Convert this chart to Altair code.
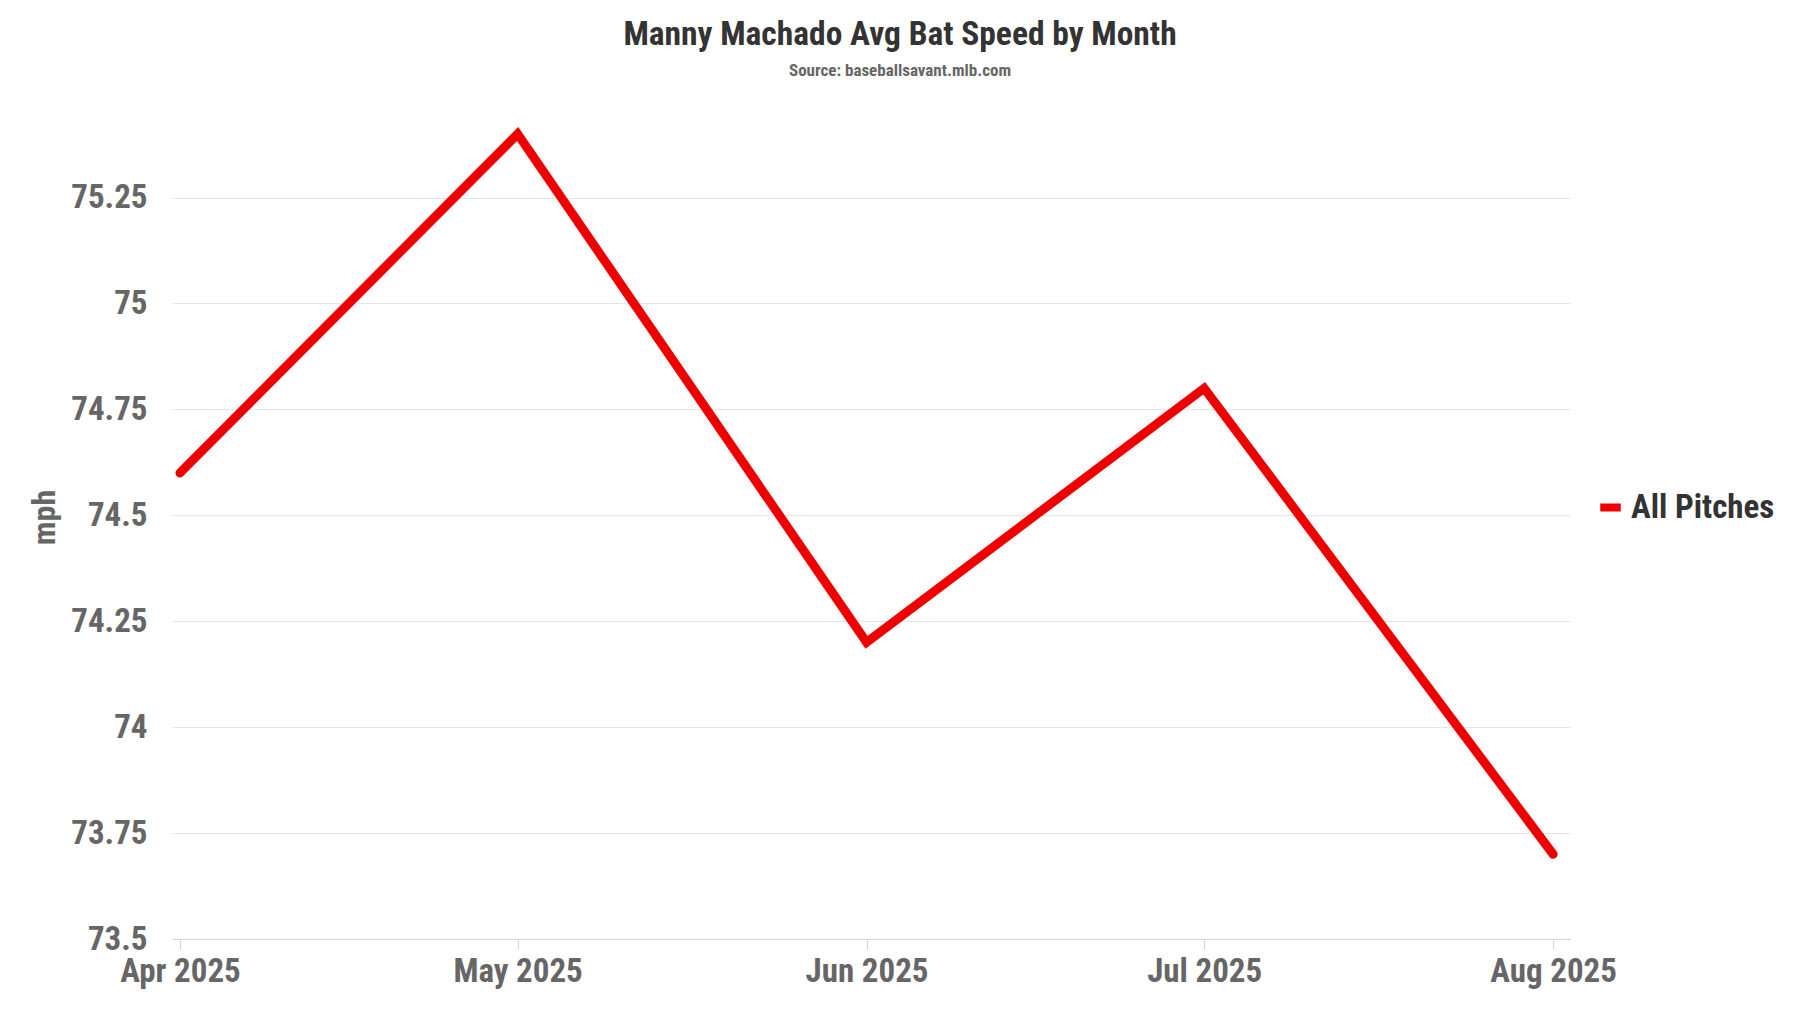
import altair as alt
import pandas as pd

months = ["2025-04-01", "2025-05-01", "2025-06-01", "2025-07-01", "2025-08-01"]
speeds = [74.6, 75.4, 74.2, 74.8, 73.7]
series = ["All Pitches"] * 5
y_ticks = [73.5, 73.75, 74.0, 74.25, 74.5, 74.75, 75.0, 75.25]

df = pd.DataFrame({"month": months, "speed": speeds, "series": series})

FONT = "Roboto Condensed, Liberation Sans Narrow, DejaVu Sans Condensed, Roboto, sans-serif"

tick_dates = [alt.DateTime(year=2025, month=m, date=1, utc=True) for m in [4, 5, 6, 7, 8]]

chart = alt.Chart(df).mark_line(strokeWidth=9, strokeCap="round", clip=False).encode(
    x=alt.X(
        "month:T",
        scale=alt.Scale(
            type="utc",
            domain=[
                alt.DateTime(year=2025, month=3, date=31, hours=7, utc=True),
                alt.DateTime(year=2025, month=8, date=2, hours=12, utc=True),
            ],
        ),
        axis=alt.Axis(
            title=None,
            values=tick_dates,
            format="%b %Y",
            grid=False,
            domainColor="#ccd6eb",
            tickColor="#ccd6eb",
            tickSize=10,
            labelFont=FONT,
            labelFontSize=33,
            labelFontWeight="bold",
            labelColor="#666666",
            labelPadding=6,
            labelFlush=False,
            labelOverlap=False,
        ),
    ),
    y=alt.Y(
        "speed:Q",
        scale=alt.Scale(domain=[73.5, 75.4], nice=False, zero=False),
        axis=alt.Axis(
            title="mph",
            values=y_ticks,
            format=".2~f",
            domain=False,
            ticks=False,
            gridColor="#e6e6e6",
            labelFont=FONT,
            labelFontSize=33,
            labelFontWeight="bold",
            labelColor="#666666",
            labelPadding=25,
            titleFont=FONT,
            titleFontSize=32,
            titleFontWeight="bold",
            titleColor="#666666",
            titlePadding=9,
            titleY=383,
        ),
    ),
    color=alt.Color(
        "series:N",
        scale=alt.Scale(range=["#ee0000"]),
        legend=alt.Legend(
            title=None,
            orient="none",
            legendX=1422,
            legendY=357,
            symbolType="stroke",
            symbolStrokeWidth=8,
            symbolSize=420,
            labelFont=FONT,
            labelFontSize=33,
            labelFontWeight="bold",
            labelColor="#333333",
            labelOffset=4,
        ),
    ),
).properties(
    width=1398,
    height=805,
    title=alt.TitleParams(
        text="Manny Machado Avg Bat Speed by Month",
        subtitle="Source: baseballsavant.mlb.com",
        anchor="middle",
        frame="group",
        dx=29,
        font=FONT,
        fontSize=33.5,
        fontWeight="bold",
        color="#333333",
        subtitleFont=FONT,
        subtitleFontSize=17,
        subtitleFontWeight="bold",
        subtitleColor="#666666",
        subtitlePadding=11,
        offset=36,
    ),
    autosize=alt.AutoSizeParams(type="none"),
    padding={"left": 164, "top": 126, "right": 222, "bottom": 66},
).configure_view(stroke=None)

chart.save("out.html", embed_options={"renderer": "svg", "actions": False})
